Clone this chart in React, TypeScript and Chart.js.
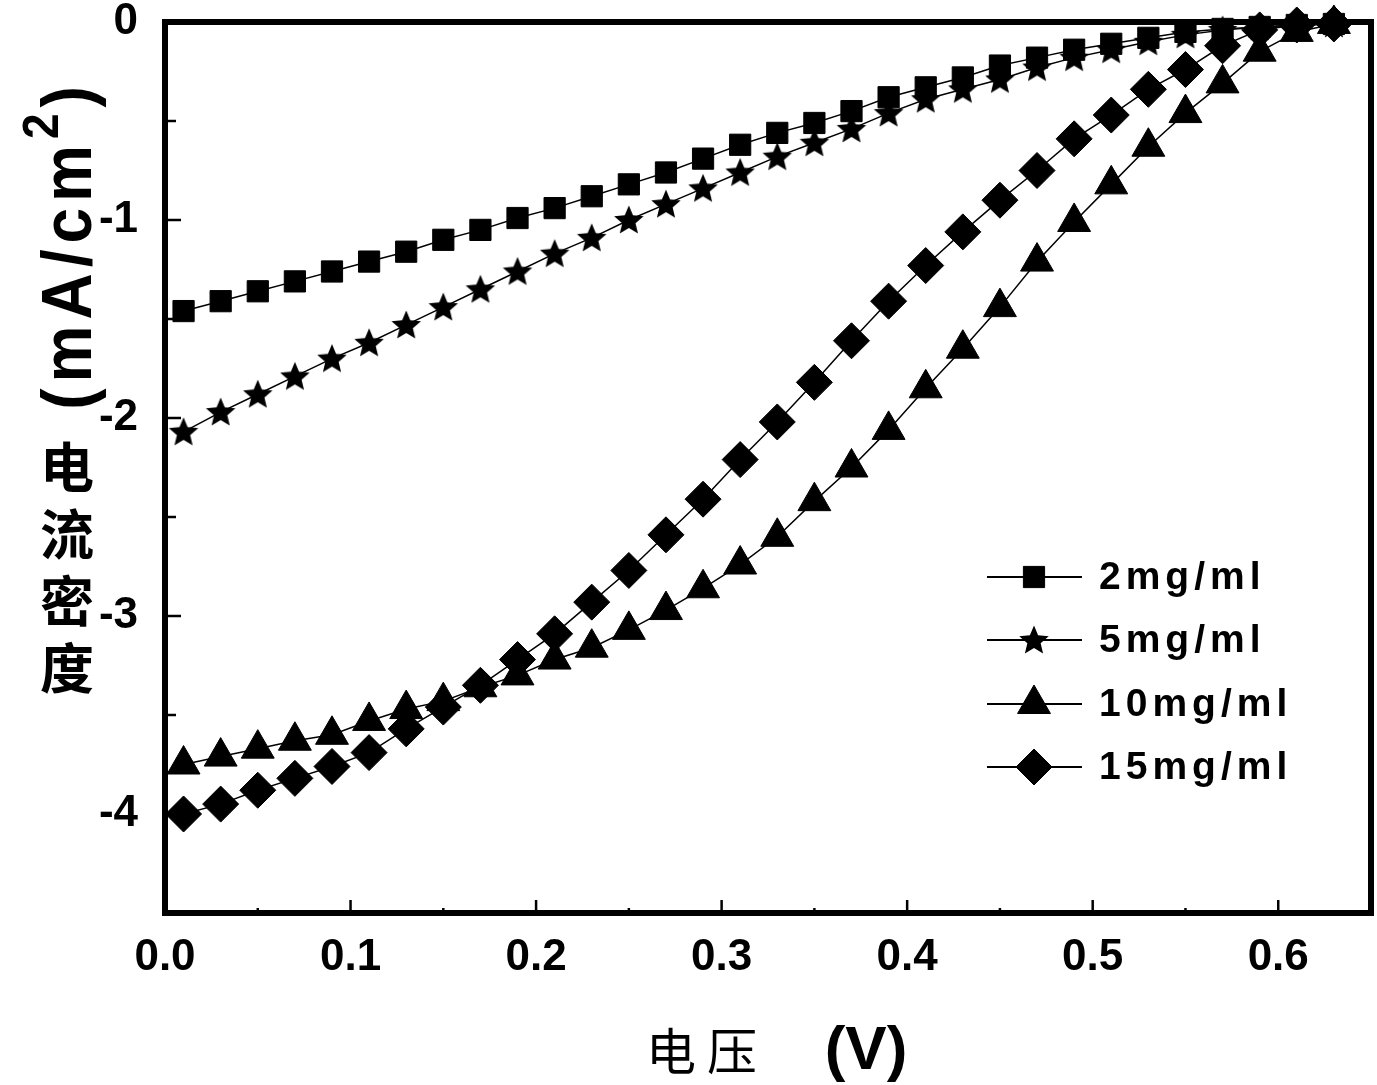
import React, { useEffect, useRef } from 'react';
import { Chart, registerables } from 'chart.js';
import { drawPoint } from 'chart.js/helpers';

Chart.register(...registerables);

// ---- data ----
const voltage = [0.01, 0.03, 0.05, 0.07, 0.09, 0.11, 0.13, 0.15, 0.17, 0.19, 0.21, 0.23, 0.25, 0.27, 0.29, 0.31,
  0.33, 0.35, 0.37, 0.39, 0.41, 0.43, 0.45, 0.47, 0.49, 0.51, 0.53, 0.55, 0.57, 0.59, 0.61, 0.63];

const current2 = [-1.46, -1.41, -1.36, -1.31, -1.26, -1.21, -1.16, -1.10, -1.05, -0.99, -0.94, -0.88, -0.82, -0.76, -0.69, -0.62,
  -0.56, -0.51, -0.45, -0.38, -0.33, -0.28, -0.22, -0.18, -0.14, -0.11, -0.08, -0.05, -0.035, -0.025, -0.015, -0.01];

const current5 = [-2.07, -1.97, -1.88, -1.79, -1.70, -1.62, -1.53, -1.44, -1.35, -1.26, -1.17, -1.09, -1.00, -0.92, -0.84, -0.76,
  -0.68, -0.61, -0.54, -0.46, -0.39, -0.34, -0.29, -0.23, -0.18, -0.14, -0.10, -0.065, -0.04, -0.025, -0.015, -0.01];

const current10 = [-3.75, -3.71, -3.67, -3.63, -3.60, -3.53, -3.47, -3.43, -3.36, -3.30, -3.22, -3.16, -3.07, -2.97, -2.86, -2.74,
  -2.60, -2.42, -2.25, -2.06, -1.85, -1.65, -1.44, -1.21, -1.01, -0.82, -0.63, -0.46, -0.31, -0.15, -0.05, -0.01];

const current15 = [-4.00, -3.95, -3.88, -3.82, -3.76, -3.69, -3.57, -3.46, -3.35, -3.22, -3.09, -2.93, -2.77, -2.59, -2.41, -2.21,
  -2.02, -1.82, -1.61, -1.41, -1.23, -1.06, -0.90, -0.75, -0.59, -0.47, -0.34, -0.24, -0.12, -0.04, -0.015, -0.01];

const seriesLabels = ['2mg/ml', '5mg/ml', '10mg/ml', '15mg/ml'];
const xAxisTitleCn = '电压';
const xAxisTitleUnit = '(V)';
const yAxisTitleCn = ['电', '流', '密', '度'];
const yAxisUnitMain = '(mA/cm';
const yAxisUnitSup = '2';
const yAxisUnitEnd = ')';

function makeStar(size: number): HTMLCanvasElement {
  const c = document.createElement('canvas');
  c.width = size;
  c.height = size;
  const g = c.getContext('2d')!;
  const cx = size / 2;
  const cy = size / 2 + 1;
  const ro = size / 2 - 0.5;
  const ri = ro * 0.45;
  g.beginPath();
  for (let i = 0; i < 10; i++) {
    const r = i % 2 === 0 ? ro : ri;
    const a = -Math.PI / 2 + (i * Math.PI) / 5;
    const px = cx + r * Math.cos(a);
    const py = cy + r * Math.sin(a);
    if (i === 0) g.moveTo(px, py);
    else g.lineTo(px, py);
  }
  g.closePath();
  g.fillStyle = '#000';
  g.fill();
  return c;
}

export default function App() {
  const ref = useRef<HTMLCanvasElement | null>(null);

  useEffect(() => {
    document.body.style.margin = '0';
    const canvas = ref.current!;
    const star = makeStar(32);

    const styles: any[] = [
      { pointStyle: 'rect', radius: 15 },
      { pointStyle: star, radius: 16 },
      { pointStyle: 'triangle', radius: 19 },
      { pointStyle: 'rectRot', radius: 18 },
    ];
    const series = [current2, current5, current10, current15];

    const datasets = series.map((vals, i) => ({
      label: seriesLabels[i],
      data: voltage.map((v, k) => ({ x: v, y: vals[k] })),
      borderColor: '#000',
      backgroundColor: '#000',
      borderWidth: 1.5,
      pointStyle: styles[i].pointStyle,
      pointRadius: styles[i].radius,
      pointBorderWidth: 1,
      pointBackgroundColor: '#000',
      pointBorderColor: '#000',
      tension: 0,
      clip: false as any,
    }));

    const decor = {
      id: 'decor',
      beforeDatasetsDraw(chart: any) {
        const { ctx, chartArea: a, scales } = chart;
        const xs = scales.x;
        const ys = scales.y;
        ctx.save();
        ctx.strokeStyle = '#000';
        ctx.lineWidth = 2.5;
        // inward ticks on x
        for (let i = 0; i <= 13; i++) {
          const v = i * 0.05;
          const px = xs.getPixelForValue(v);
          const len = i % 2 === 0 ? 13 : 5;
          ctx.beginPath();
          ctx.moveTo(px, a.bottom);
          ctx.lineTo(px, a.bottom - len);
          ctx.stroke();
        }
        // inward ticks on y
        for (let i = 0; i <= 9; i++) {
          const v = -i * 0.5;
          const py = ys.getPixelForValue(v);
          const len = i % 2 === 0 ? 16 : 11;
          ctx.beginPath();
          ctx.moveTo(a.left, py);
          ctx.lineTo(a.left + len, py);
          ctx.stroke();
        }
        // frame
        ctx.lineWidth = 6;
        ctx.strokeRect(a.left, a.top, a.right - a.left, a.bottom - a.top);
        ctx.restore();
      },
      afterDraw(chart: any) {
        const { ctx } = chart;
        ctx.save();
        ctx.fillStyle = '#000';
        ctx.strokeStyle = '#000';

        // legend
        const rowY = [577, 640, 704, 767];
        for (let i = 0; i < 4; i++) {
          const y = rowY[i];
          ctx.lineWidth = 2;
          ctx.beginPath();
          ctx.moveTo(987, y);
          ctx.lineTo(1082, y);
          ctx.stroke();
          ctx.lineWidth = 1;
          drawPoint(ctx, { pointStyle: styles[i].pointStyle, rotation: 0, radius: styles[i].radius, borderWidth: 1 } as any, 1034, y);
          ctx.font = 'bold 39px "Liberation Sans", Arial, sans-serif';
          (ctx as any).letterSpacing = '5px';
          ctx.textAlign = 'left';
          ctx.textBaseline = 'middle';
          ctx.fillText(seriesLabels[i], 1099, y + 1);
          (ctx as any).letterSpacing = '0px';
        }

        // x axis title
        ctx.textAlign = 'center';
        ctx.textBaseline = 'middle';
        ctx.font = '400 50px "Noto Sans CJK SC", sans-serif';
        ctx.fillText(xAxisTitleCn[0], 671, 1051);
        ctx.fillText(xAxisTitleCn[1], 732, 1051);
        ctx.font = 'bold 62px "Liberation Sans", Arial, sans-serif';
        ctx.fillText(xAxisTitleUnit, 866, 1052);

        // y axis title: Chinese upright stacked
        ctx.font = '700 54px "Noto Sans CJK SC", sans-serif';
        const cnY = [467, 534, 601, 668];
        yAxisTitleCn.forEach((ch, i) => ctx.fillText(ch, 67, cnY[i]));

        // y axis title unit, rotated
        ctx.save();
        ctx.translate(91, 0);
        ctx.rotate(-Math.PI / 2);
        ctx.scale(1, 1.1);
        ctx.textBaseline = 'alphabetic';
        ctx.textAlign = 'left';
        (ctx as any).letterSpacing = '6px';
        const mainFont = 'bold 64px "Liberation Sans", Arial, sans-serif';
        const supFont = 'bold 46px "Liberation Sans", Arial, sans-serif';
        ctx.font = mainFont;
        const w1 = ctx.measureText(yAxisUnitMain).width;
        const w3 = ctx.measureText(yAxisUnitEnd).width;
        ctx.font = supFont;
        const w2 = ctx.measureText(yAxisUnitSup).width;
        const total = w1 + w2 + w3;
        const centerY = 245;
        let lx = -centerY - total / 2; // local x = -screenY
        ctx.font = mainFont;
        ctx.fillText(yAxisUnitMain, lx, 0);
        lx += w1;
        ctx.font = supFont;
        ctx.fillText(yAxisUnitSup, lx, -30);
        lx += w2;
        ctx.font = mainFont;
        ctx.fillText(yAxisUnitEnd, lx, 0);
        ctx.restore();

        ctx.restore();
      },
    };

    const tickFont = { family: '"Liberation Sans", Arial, sans-serif', size: 44, weight: 'bold' as const };

    const chart = new Chart(canvas, {
      type: 'line',
      data: { datasets: datasets as any },
      options: {
        responsive: false,
        animation: false,
        events: [],
        devicePixelRatio: 1,
        layout: { autoPadding: false, padding: { top: 22, right: 6, left: 0, bottom: 0 } },
        plugins: { legend: { display: false }, tooltip: { enabled: false } },
        scales: {
          x: {
            type: 'linear',
            min: 0,
            max: 0.65,
            grid: { display: false, drawTicks: false },
            border: { display: false },
            ticks: {
              stepSize: 0.1,
              includeBounds: false,
              autoSkip: false,
              maxRotation: 0,
              padding: 18,
              color: '#000',
              font: tickFont,
              callback: (v: any) => Number(v).toFixed(1),
            },
            afterFit: (s: any) => {
              s.height = 172;
              s.paddingLeft = 0;
              s.paddingRight = 0;
            },
          },
          y: {
            type: 'linear',
            min: -4.5,
            max: 0,
            grid: { display: false, drawTicks: false },
            border: { display: false },
            ticks: {
              stepSize: 0.5,
              autoSkip: false,
              padding: 27,
              color: '#000',
              font: tickFont,
              callback: (v: any) => {
                const n = Number(v);
                return Math.abs(n - Math.round(n)) < 1e-9 ? String(Math.round(n) === 0 ? 0 : Math.round(n)) : '';
              },
            },
            afterFit: (s: any) => {
              s.width = 165;
              s.paddingTop = 0;
              s.paddingBottom = 0;
            },
          },
        },
      },
      plugins: [decor],
    });

    return () => chart.destroy();
  }, []);

  return (
    <div style={{ width: 1377, height: 1085, background: '#fff' }}>
      <canvas ref={ref} width={1377} height={1085} style={{ display: 'block' }} />
    </div>
  );
}
